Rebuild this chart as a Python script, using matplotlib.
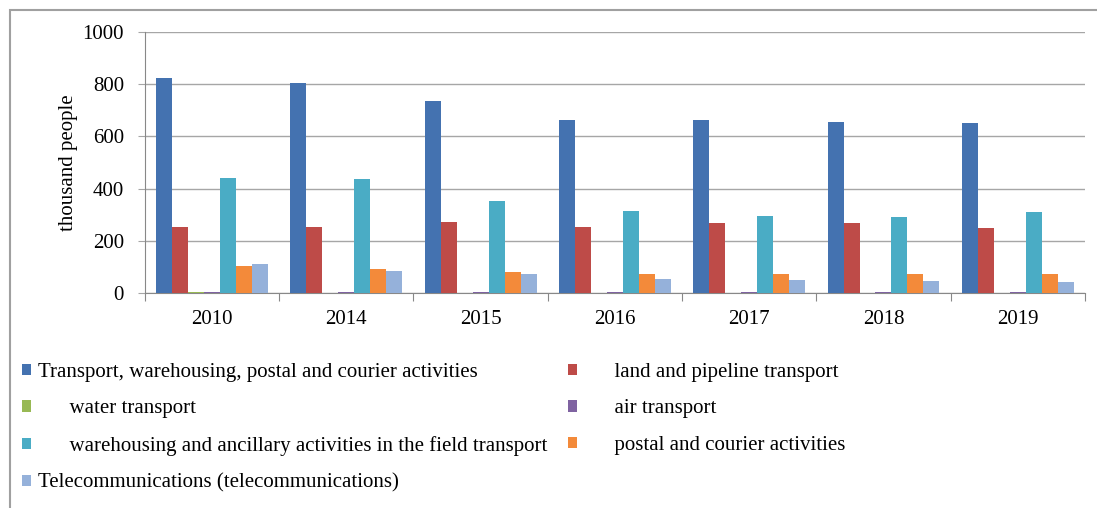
# employment by transport sub-sector, grouped bars
import numpy as np
import matplotlib.pyplot as plt
from matplotlib.patches import Rectangle

plt.rcParams['font.family'] = ['Liberation Serif', 'DejaVu Serif']

years = ['2010', '2014', '2015', '2016', '2017', '2018', '2019']

transport_total = [822, 806, 736, 663, 663, 655, 651]
land_pipeline = [254, 254, 273, 252, 267, 268, 248]
water = [4, 2, 2, 2, 2, 2, 2]
air = [5, 5, 3, 3, 3, 5, 5]
warehousing = [440, 438, 352, 314, 295, 291, 310]
postal = [105, 92, 82, 75, 73, 73, 73]
telecom = [110, 85, 72, 54, 50, 46, 41]

labels = ['Transport, warehousing, postal and courier activities',
          'land and pipeline transport',
          'water transport',
          'air transport',
          'warehousing and ancillary activities in the field transport',
          'postal and courier activities',
          'Telecommunications (telecommunications)']
pads = ['', '      ', '      ', '      ', '      ', '      ', '']
colors = ['#4472B0', '#BE4B48', '#98B954', '#7F63A1', '#4AACC5', '#F38A3A', '#95B1DA']
series = [transport_total, land_pipeline, water, air, warehousing, postal, telecom]

fig = plt.figure(figsize=(10.97, 5.08), dpi=100)
ax = fig.add_axes([0.132, 0.423, 0.857, 0.514])

x = np.arange(len(years))
w = 0.119
bars = []
for i, (vals, c) in enumerate(zip(series, colors)):
    b = ax.bar(x + (i - 3) * w, vals, w, color=c, zorder=3)
    bars.append(b)

ax.set_xlim(-0.5, len(years) - 0.5)
ax.set_ylim(0, 1000)
ax.set_yticks(range(0, 1001, 200))
ax.grid(axis='y', color='#A6A6A6', linewidth=1, zorder=0)

# group boundary ticks, labels centred on groups
ax.set_xticks(np.arange(-0.5, len(years)), minor=False)
ax.set_xticklabels([])
ax.set_xticks(x, minor=True)
ax.set_xticklabels(years, minor=True)
ax.tick_params(axis='x', which='major', length=6, color='#888888')
ax.tick_params(axis='x', which='minor', length=0, labelsize=15, pad=12)
ax.tick_params(axis='y', length=5, color='#A6A6A6', labelsize=15, pad=10)

for s in ['top', 'right']:
    ax.spines[s].set_visible(False)
for s in ['left', 'bottom']:
    ax.spines[s].set_color('#888888')

ax.set_ylabel('thousand people', fontsize=15, labelpad=3)

# legend column-wise order to give row layout of reference
order = [0, 2, 4, 6, 1, 3, 5]
fig.legend([bars[i] for i in order], [pads[i] + labels[i] for i in order],
           ncol=2, loc='upper left', bbox_to_anchor=(0.003, 0.323),
           frameon=False, fontsize=15, handlelength=0.45, handleheight=0.45,
           handletextpad=0.3, labelspacing=0.85, columnspacing=1.0)

# outer frame
fig.patches.append(Rectangle((10 / 1097, -0.1), 1.2, 1 - 10 / 508 + 0.1,
                             transform=fig.transFigure, fill=False,
                             edgecolor='#A0A0A0', linewidth=1.5))

fig.savefig('out.png', dpi=100)
